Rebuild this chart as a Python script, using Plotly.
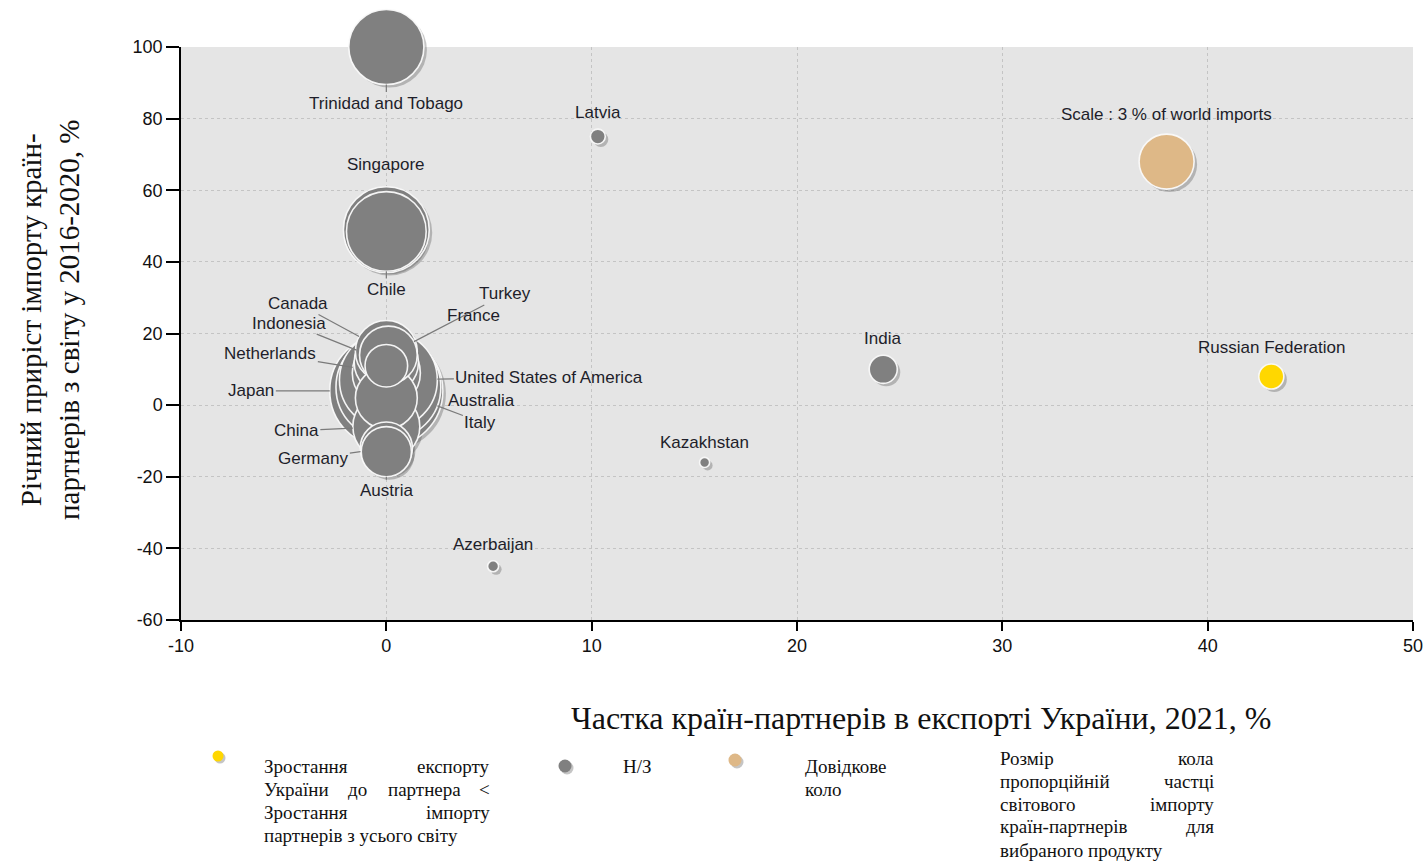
import plotly.graph_objects as go
import math

# ---------------- data ----------------
countries = ["Japan", "Italy", "United States of America", "Netherlands", "China",
             "Indonesia", "Canada", "Australia", "Turkey", "Germany", "Austria", "France",
             "Singapore", "Chile", "Trinidad and Tobago", "Latvia", "India",
             "Kazakhstan", "Azerbaijan", "Russian Federation", "Scale : 3 % of world imports"]
export_share = [0.0, 0.1, 0.1, 0.0, 0.0, 0.0, 0.0, 0.0, 0.1, 0.0, 0.0, 0.0,
                0.0, 0.0, 0.0, 10.3, 24.2, 15.5, 5.2, 43.1, 38.0]
import_growth = [4, 5, 7, 9, -6, 12, 15, 2, 14, -12, -13, 11,
                 49, 48.5, 100, 75, 10, -16, -45, 8, 68]
world_import_share = [12.7, 10.9, 9.5, 4.6, 4.45, 4.1, 3.8, 3.8, 3.3, 2.7, 2.5, 1.8,
                      7.3, 6.3, 5.6, 0.22, 0.78, 0.1, 0.12, 0.62, 3.0]
group = ["na"] * 19 + ["lower", "scale"]

x_ticks = [-10, 0, 10, 20, 30, 40, 50]
x_tick_labels = ["-10", "0", "10", "20", "30", "40", "50"]
y_ticks = [-60, -40, -20, 0, 20, 40, 60, 80, 100]
y_tick_labels = ["-60", "-40", "-20", "0", "20", "40", "60", "80", "100"]

x_title = "Частка країн-партнерів в експорті України, 2021, %"
y_title = "Річний приріст імпорту країн-<br>партнерів з світу у 2016-2020, %"

legend_items = [
    ("lower", ["Зростання експорту", "України до партнера <", "Зростання імпорту",
               "партнерів з усього світу"]),
    ("na", ["Н/З"]),
    ("scale", ["Довідкове", "коло"]),
]
legend_note = ["Розмір кола", "пропорційній частці", "світового імпорту",
               "країн-партнерів для", "вибраного продукту"]

# ---------------- layout constants ----------------
W, H = 1424, 863
ML, MR, MT, MB = 181, 11, 47, 243
PW, PH = W - ML - MR, H - MT - MB
XR, YR = [-10, 50], [-60, 100]
REF_DIAM = 55  # px diameter of the 3 % reference circle
colors = {"na": "#808080", "lower": "#FFD700", "scale": "#DEB887"}

sizeref = 2 * 3.0 / REF_DIAM ** 2


def diam(share):
    return REF_DIAM * math.sqrt(share / 3.0)


# shadow offset: 3 px right, 3 px down, converted to data units
sdx = 3 * (XR[1] - XR[0]) / PW
sdy = -3 * (YR[1] - YR[0]) / PH

fig = go.Figure()

# order: largest first so smaller bubbles sit on top
order = sorted(range(len(countries)), key=lambda i: -world_import_share[i])

fig.add_trace(go.Scatter(
    x=[export_share[i] + sdx for i in order],
    y=[import_growth[i] + sdy for i in order],
    mode="markers", hoverinfo="skip", cliponaxis=False,
    marker=dict(size=[world_import_share[i] for i in order], sizemode="area",
                sizeref=sizeref, color="rgba(70,70,70,0.45)", line=dict(width=0)),
))

for g in ["na", "lower", "scale"]:
    idx = [i for i in order if group[i] == g]
    fig.add_trace(go.Scatter(
        x=[export_share[i] for i in idx],
        y=[import_growth[i] for i in idx],
        text=[countries[i] for i in idx],
        mode="markers", cliponaxis=False, hoverinfo="text",
        marker=dict(size=[world_import_share[i] for i in idx], sizemode="area",
                    sizeref=sizeref, color=colors[g], opacity=1,
                    line=dict(color="rgba(250,250,250,0.95)", width=1.6)),
    ))

# label offsets (px) and whether leader line is shown
label_pos = {
    "Trinidad and Tobago": (0, 56, True),
    "Singapore": (0, -65, False),
    "Chile": (0, 58, True),
    "Latvia": (0, -24, False),
    "India": (-1, -31, False),
    "Kazakhstan": (0, -20, False),
    "Azerbaijan": (0, -22, False),
    "Russian Federation": (0, -29, False),
    "Scale : 3 % of world imports": (0, -47, False),
    "Canada": (-88, -48, True),
    "Indonesia": (-97, -39, True),
    "Netherlands": (-116, -19, True),
    "Japan": (-135, 0, True),
    "China": (-90, 4, True),
    "Germany": (-73, 10, True),
    "Austria": (0, 39, True),
    "Turkey": (117, -61, True),
    "France": (87, -50, False),
    "United States of America": (161, -3, True),
    "Australia": (95, 3, False),
    "Italy": (92, 35, True),
}

for i, name in enumerate(countries):
    ax, ay, leader = label_pos[name]
    fig.add_annotation(
        x=export_share[i], y=import_growth[i], xref="x", yref="y",
        text=name, showarrow=True, ax=ax, ay=ay,
        arrowhead=0, arrowwidth=1.2,
        arrowcolor="#7a7a7a" if leader else "rgba(0,0,0,0)",
        standoff=diam(world_import_share[i]) / 2,
        font=dict(family="Liberation Sans, Arial, sans-serif", size=17, color="#1e1e2a"),
    )


def px_x(px):
    return (px - ML) / PW


def px_y(py):
    return (MT + PH - py) / PH


SERIF = "Liberation Serif, Times New Roman, serif"

# axis titles
fig.add_annotation(x=px_x(921), y=px_y(718), xref="paper", yref="paper",
                   text=x_title, showarrow=False, xanchor="center", yanchor="middle",
                   font=dict(family=SERIF, size=32, color="#111"))
fig.add_annotation(x=px_x(50), y=px_y(320), xref="paper", yref="paper",
                   text=y_title, showarrow=False, textangle=-90, xanchor="center", yanchor="middle",
                   font=dict(family=SERIF, size=29, color="#111"))

# ---------------- legend ----------------
LFONT = dict(family=SERIF, size=19, color="#111")
CHAR_W = 9.2
LINE_H = 23


def text_block(lines, left, right, top, justify_last=False):
    for li, line in enumerate(lines):
        y = px_y(top + li * LINE_H)
        words = line.split(" ")
        last = li == len(lines) - 1
        if len(words) == 1 or (last and not justify_last) or right is None:
            fig.add_annotation(x=px_x(left), y=y, xref="paper", yref="paper", text=line,
                               showarrow=False, xanchor="left", yanchor="middle", font=LFONT)
            continue
        widths = [len(w) * CHAR_W for w in words]
        gap = (right - left - sum(widths)) / (len(words) - 1)
        pos = left
        for k, (w, ww) in enumerate(zip(words, widths)):
            if k == 0:
                xa, xp = "left", left
            elif k == len(words) - 1:
                xa, xp = "right", right
            else:
                xa, xp = "center", pos + ww / 2
            fig.add_annotation(x=px_x(xp), y=y, xref="paper", yref="paper", text=w,
                               showarrow=False, xanchor=xa, yanchor="middle", font=LFONT)
            pos += ww + gap


def legend_marker(cx, cy, r, color):
    fig.add_shape(type="circle", xref="paper", yref="paper", xsizemode="pixel", ysizemode="pixel",
                  xanchor=px_x(cx), yanchor=px_y(cy), x0=-r + 2, x1=r + 2, y0=-r - 2, y1=r - 2,
                  fillcolor="rgba(90,90,90,0.35)", line=dict(width=0))
    fig.add_shape(type="circle", xref="paper", yref="paper", xsizemode="pixel", ysizemode="pixel",
                  xanchor=px_x(cx), yanchor=px_y(cy), x0=-r, x1=r, y0=-r, y1=r,
                  fillcolor=color, line=dict(width=0))


legend_layout = {"lower": (218, 756, 5.5, 262, 492, 766),
                 "na": (565, 766, 6.5, 621, None, 766),
                 "scale": (735, 760, 6.5, 803, None, 766)}
for g, lines in legend_items:
    cx, cy, r, left, right, top = legend_layout[g]
    legend_marker(cx, cy, r, colors[g])
    text_block(lines, left, right, top)

text_block(legend_note, 998, 1216, 758)

fig.update_layout(
    width=W, height=H,
    margin=dict(l=ML, r=MR, t=MT, b=MB, autoexpand=False),
    paper_bgcolor="white", plot_bgcolor="#e5e5e5",
    showlegend=False,
    font=dict(family="Liberation Sans, Arial, sans-serif", size=18, color="#111"),
)
fig.update_xaxes(range=XR, tickvals=x_ticks, ticktext=x_tick_labels,
                 showline=True, linecolor="black", linewidth=1.5,
                 ticks="outside", ticklen=9, tickcolor="black", tickwidth=1.5,
                 showgrid=True, gridcolor="#c4c4c4", griddash="dot", gridwidth=1,
                 zeroline=False, tickfont=dict(size=18, color="#111"))
fig.update_yaxes(range=YR, tickvals=y_ticks, ticktext=y_tick_labels,
                 showline=True, linecolor="black", linewidth=1.5,
                 ticks="outside", ticklen=13, tickcolor="black", tickwidth=1.5,
                 showgrid=True, gridcolor="#c4c4c4", griddash="dot", gridwidth=1,
                 zeroline=False, tickfont=dict(size=18, color="#111"))

fig.write_html("out.html", config={"displayModeBar": False},
               post_script="document.body.style.margin='0';document.body.style.overflow='hidden';")
